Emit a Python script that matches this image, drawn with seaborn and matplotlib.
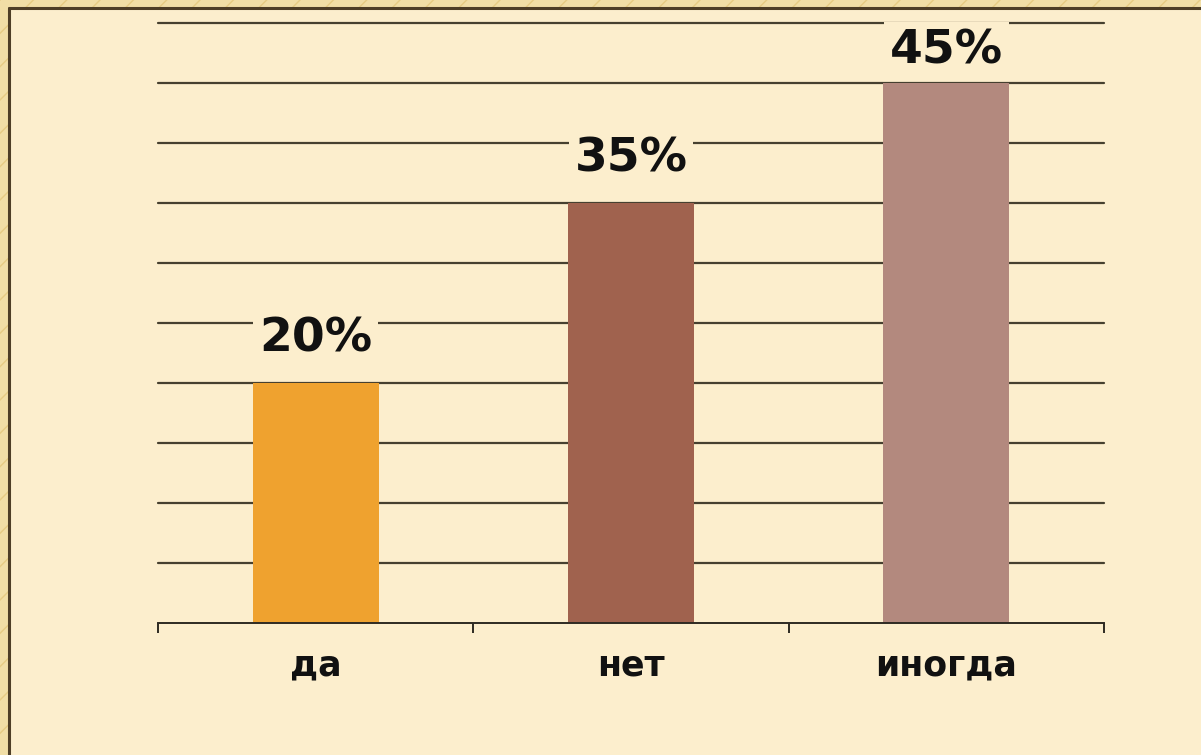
import matplotlib
matplotlib.use("Agg")
import matplotlib.pyplot as plt
from matplotlib.patches import Rectangle
from matplotlib.lines import Line2D
from matplotlib.ticker import FixedLocator
import seaborn as sns
import pandas as pd

# Survey answers and their shares, percent
categories = ["да", "нет", "иногда"]
values = [20, 35, 45]
bar_colors = ["#EFA22F", "#A0624E", "#B3897E"]

PANEL = "#FCEECD"
FRAME = "#F1DEA6"
INK = "#46402F"

sns.set_style("white")
plt.rcParams["font.family"] = ["DejaVu Sans"]

W, H, DPI = 1201, 755, 100
fig = plt.figure(figsize=(W / DPI, H / DPI), dpi=DPI)
fig.patch.set_facecolor(FRAME)

# Ornamental outer strip with faint diagonal stripes
fig.patches.append(Rectangle((0, 0), 1, 1, transform=fig.transFigure,
                             facecolor=FRAME, edgecolor="#E6CB84", hatch="/",
                             linewidth=0, zorder=0))
# Inner cream panel with a dark rule along its left and top edges
px, py = 9 / W, (H - 8) / H
fig.patches.append(Rectangle((px, 0), 1 - px, py, transform=fig.transFigure,
                             facecolor=PANEL, edgecolor="none", zorder=1))
fig.lines.append(Line2D([px, px], [0, py], transform=fig.transFigure,
                        color="#4E3E26", linewidth=2.2, zorder=2))
fig.lines.append(Line2D([px, 1], [py, py], transform=fig.transFigure,
                        color="#4E3E26", linewidth=2.2, zorder=2))

ax = fig.add_axes([158 / W, 132 / H, 946 / W, 600 / H])
ax.set_facecolor("none")
ax.set_zorder(3)

df = pd.DataFrame({"answer": categories, "share": values})
sns.barplot(data=df, x="answer", y="share", hue="answer",
            palette=bar_colors, width=0.4, legend=False,
            saturation=1, linewidth=0, edgecolor="none", ax=ax, zorder=3)

ax.set_ylim(0, 50)
ax.set_xlim(-0.5, len(categories) - 0.5)
ax.set_xlabel("")
ax.set_ylabel("")

# Horizontal gridlines every 5%
for y in range(5, 51, 5):
    ax.axhline(y, color=INK, linewidth=1.6, zorder=1, clip_on=False)

for side in ("top", "right", "left"):
    ax.spines[side].set_visible(False)
ax.spines["bottom"].set_color("#2E2A22")
ax.spines["bottom"].set_linewidth(1.4)
ax.spines["bottom"].set_zorder(4)

ax.set_yticks([])
ax.tick_params(axis="x", which="both", bottom=True)
ax.tick_params(axis="x", which="major", length=0, pad=18,
               labelsize=25, labelcolor="#111111")
for lbl in ax.get_xticklabels():
    lbl.set_fontweight("bold")
ax.xaxis.set_minor_locator(FixedLocator([i - 0.5 for i in range(len(categories) + 1)]))
ax.tick_params(axis="x", which="minor", length=7, width=1.4,
               color="#2E2A22", direction="out")

# Value labels above bars, pulled down when close to the top of the scale
px_per_unit = 600 / 50
for i, v in enumerate(values):
    room = (50 - v) * px_per_unit
    gap_px = min(32, room - 40)
    ax.annotate(f"{v}%", xy=(i, v), xytext=(0, gap_px * 72 / DPI),
                textcoords="offset points", ha="center", va="baseline",
                fontsize=34, fontweight="bold", color="#111111", zorder=5,
                bbox=dict(boxstyle="square,pad=0.12", facecolor=PANEL,
                          edgecolor="none"))

fig.savefig("out.png", dpi=DPI, facecolor=fig.get_facecolor())
